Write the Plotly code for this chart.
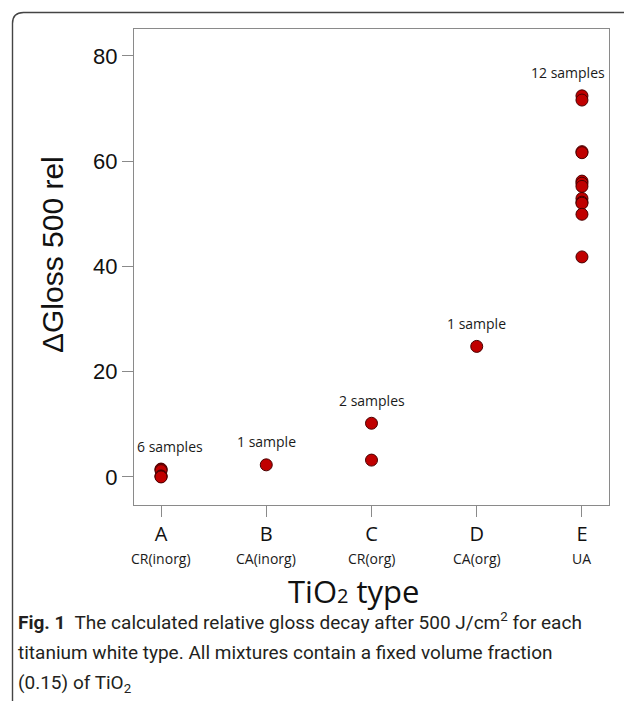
import plotly.graph_objects as go

# ---- data ----
categories = ["A", "B", "C", "D", "E"]
type_names = ["CR(inorg)", "CA(inorg)", "CR(org)", "CA(org)", "UA"]
values_A = [1.5, 1.4, 1.2, 0.2, 0.1, 0.0]
values_B = [2.3]
values_C = [10.2, 3.2]
values_D = [24.8]
values_E = [72.4, 71.6, 61.8, 61.6, 56.2, 55.8, 55.2, 52.9, 52.2, 52.0, 49.9, 41.8]
sample_labels = ["6 samples", "1 sample", "2 samples", "1 sample", "12 samples"]
y_ticks = [0, 20, 40, 60, 80]

all_values = [values_A, values_B, values_C, values_D, values_E]

W, H = 624, 701
L, R, T, B = 134, 15, 29, 196
PW, PH = W - L - R, H - T - B


def px(x):
    return (x - L) / PW


def py(y):
    return (H - B - y) / PH


xs, ys = [], []
for cat, vals in zip(categories, all_values):
    for v in vals:
        xs.append(cat)
        ys.append(v)

fig = go.Figure()
fig.add_trace(go.Scatter(
    x=xs, y=ys, mode="markers",
    marker=dict(size=12, color="#C00000", line=dict(color="#4a0000", width=1)),
    showlegend=False, hoverinfo="skip",
))

annotations = []
# sample-count labels above each group
label_offsets = [9, 0, 0, 0, -14]
for cat, vals, lab, dx in zip(categories, all_values, sample_labels, label_offsets):
    annotations.append(dict(
        x=cat, y=max(vals), xref="x", yref="y", text=lab, showarrow=False,
        xshift=dx, yshift=23, font=dict(family="Open Sans", size=14, color="#1a1a1a"),
    ))
# second line of x tick labels (type names)
for cat, nm in zip(categories, type_names):
    annotations.append(dict(
        x=cat, y=py(558), xref="x", yref="paper", text=nm, showarrow=False,
        yanchor="middle", font=dict(family="Open Sans", size=14, color="#1a1a1a"),
    ))
# axis titles
annotations.append(dict(
    x=px(353), y=py(591), xref="paper", yref="paper",
    text="TiO<span style='font-size:20px'>2</span> type",
    showarrow=False, xanchor="center", yanchor="middle",
    font=dict(family="Open Sans", size=31, color="#111"),
))
annotations.append(dict(
    x=px(52), y=py(255), xref="paper", yref="paper", text="ΔGloss 500 rel",
    showarrow=False, textangle=-90, xanchor="center", yanchor="middle",
    font=dict(family="Liberation Sans", size=30, color="#111"),
))
# caption
cap_lines = [
    "<b>Fig. 1</b>  The calculated relative gloss decay after 500 J/cm<sup>2</sup> for each",
    "titanium white type. All mixtures contain a fixed volume fraction",
    "(0.15) of TiO<sub>2</sub>",
]
for line, yy in zip(cap_lines, [621, 652, 683]):
    annotations.append(dict(
        x=px(16), y=py(yy), xref="paper", yref="paper", text=line,
        showarrow=False, xanchor="left", yanchor="middle", align="left",
        font=dict(family="Roboto", size=19, color="#231f20"),
    ))

# outer rounded frame
r = 11
x0, y0 = 12.5, 12.5
path = (f"M {px(x0)},{py(H + 5)} L {px(x0)},{py(y0 + r)} "
        f"Q {px(x0)},{py(y0)} {px(x0 + r)},{py(y0)} L {px(W + 5)},{py(y0)}")
shapes = [dict(type="path", xref="paper", yref="paper", path=path,
               line=dict(color="#444", width=1.4), layer="above")]

axis_common = dict(showline=True, linecolor="#8a8a8a", linewidth=1, mirror=True,
                   ticks="outside", ticklen=11, tickcolor="#8a8a8a", showgrid=False,
                   zeroline=False)

fig.update_layout(
    width=W, height=H,
    margin=dict(l=L, r=R, t=T, b=B),
    paper_bgcolor="white", plot_bgcolor="white",
    xaxis=dict(type="category", categoryorder="array", categoryarray=categories,
               range=[-0.257, 4.257], tickfont=dict(family="Open Sans", size=20, color="#111"),
               **axis_common),
    yaxis=dict(range=[-5.33, 85.1], tickvals=y_ticks,
               tickfont=dict(family="Liberation Sans", size=22, color="#111"),
               **axis_common),
    annotations=annotations,
    shapes=shapes,
)

fig.write_html("out.html")
